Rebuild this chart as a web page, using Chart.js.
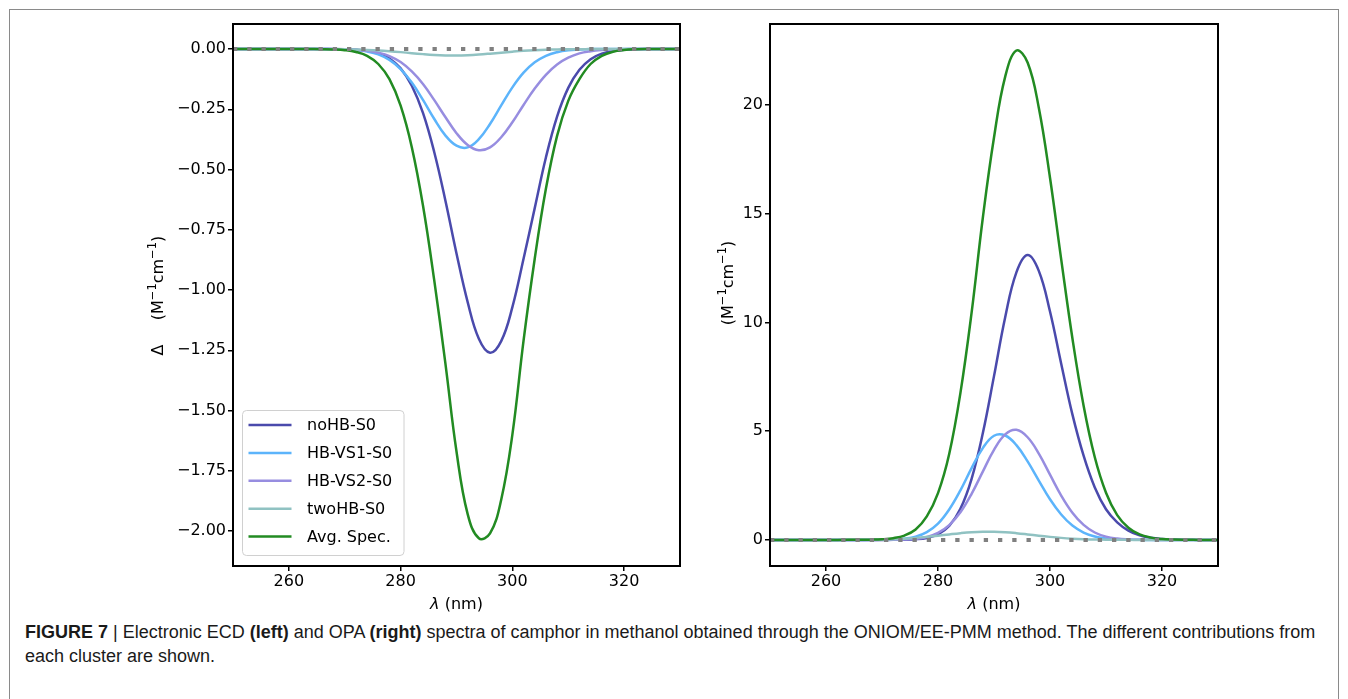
<!DOCTYPE html>
<html lang="en">
<head>
<meta charset="UTF-8">
<title>Figure 7 - ECD and OPA spectra of camphor</title>
<script src="https://cdn.jsdelivr.net/npm/chart.js"></script>
<style>
  html, body { margin: 0; padding: 0; background: #fff; }
  body { width: 1348px; height: 699px; position: relative; overflow: hidden; }
  #frame { position: absolute; left: 9px; top: 9px; width: 1330px; height: 800px; border: 1px solid #8a8a8a; box-sizing: border-box; }
  #ecd { position: absolute; left: 0; top: 0; }
  #opa { position: absolute; left: 700px; top: 0; }
  #caption { position: absolute; left: 25px; top: 620px; font-family: "Liberation Sans", Arial, sans-serif;
             font-size: 18px; line-height: 24px; color: #1a1a1a; white-space: nowrap; }
</style>
</head>
<body>
<div id="frame"></div>
<canvas id="ecd" width="700" height="620"></canvas>
<canvas id="opa" width="560" height="620"></canvas>
<div id="caption"><b>FIGURE 7</b> | Electronic ECD <b>(left)</b> and OPA <b>(right)</b> spectra of camphor in methanol obtained through the ONIOM/EE-PMM method. The different contributions from<br>each cluster are shown.</div>

<script>
// wavelengths (nm) shared by every curve
const lambda = [250, 255, 260, 264, 266, 268, 270, 272, 274, 276, 278, 280, 282, 284, 286, 288, 290, 292, 294,
                296, 298, 300, 302, 304, 306, 308, 310, 312, 314, 316, 318, 320, 322, 324, 327, 330];

// left panel: ECD
const ecdNoHB = [0, 0, 0, 0, 0, 0, -0.001, -0.003, -0.007, -0.017, -0.039, -0.080, -0.152, -0.265, -0.426, -0.627, -0.848, -1.05, -1.202,
                 -1.26, -1.212, -1.071, -0.87, -0.66, -0.45, -0.28, -0.161, -0.086, -0.042, -0.019, -0.008, -0.003, -0.001, 0, 0, 0];
const ecdVS1 = [0, 0, 0, 0, -0.0001, -0.0004, -0.0014, -0.004, -0.010, -0.022, -0.045, -0.083, -0.139, -0.211, -0.289, -0.358, -0.401, -0.408, -0.374,
                -0.311, -0.234, -0.159, -0.098, -0.055, -0.028, -0.013, -0.005, -0.002, 0, 0, 0, 0, 0, 0, 0, 0];
const ecdVS2 = [0, 0, 0, 0, -0.0001, -0.0004, -0.001, -0.003, -0.007, -0.015, -0.029, -0.054, -0.093, -0.145, -0.211, -0.282, -0.349, -0.398, -0.420,
                -0.408, -0.366, -0.304, -0.232, -0.164, -0.107, -0.064, -0.036, -0.018, -0.009, -0.004, -0.0015, -0.0005, 0, 0, 0, 0];
const ecdTwoHB = [0, 0, 0, -0.0001, -0.0003, -0.0006, -0.0011, -0.0021, -0.0037, -0.0059, -0.009, -0.0127, -0.0169, -0.021, -0.0244, -0.0265, -0.027, -0.0256, -0.0228,
                  -0.019, -0.0148, -0.0108, -0.0073, -0.0047, -0.0028, -0.0016, -0.0008, -0.0004, -0.0002, 0, 0, 0, 0, 0, 0, 0];
const ecdAvg = [0, 0, 0, -0.0002, -0.0005, -0.0016, -0.0046, -0.012, -0.028, -0.062, -0.125, -0.235, -0.407, -0.649, -0.957, -1.302, -1.67, -1.93, -2.03,
                -2.01, -1.87, -1.60, -1.21, -0.87, -0.58, -0.36, -0.215, -0.125, -0.062, -0.028, -0.011, -0.004, -0.001, 0, 0, 0];

// right panel: OPA
const opaNoHB = [0, 0, 0, 0, 0, 0, 0, 0.002, 0.008, 0.028, 0.09, 0.255, 0.64, 1.43, 2.81, 4.9, 7.53, 10.24, 12.3,
                 13.1, 12.37, 10.5, 8.1, 5.77, 3.87, 2.41, 1.41, 0.81, 0.43, 0.21, 0.098, 0.041, 0.015, 0.005, 0, 0];
const opaVS1 = [0, 0, 0, 0, 0.0005, 0.0015, 0.005, 0.019, 0.057, 0.15, 0.36, 0.75, 1.40, 2.28, 3.3, 4.22, 4.79, 4.80, 4.36,
                3.61, 2.73, 1.87, 1.17, 0.66, 0.34, 0.16, 0.07, 0.027, 0.01, 0.003, 0, 0, 0, 0, 0, 0];
const opaVS2 = [0, 0, 0, 0, 0, 0, 0.0015, 0.005, 0.017, 0.05, 0.135, 0.32, 0.68, 1.27, 2.12, 3.14, 4.14, 4.85, 5.06,
                4.72, 3.97, 3.0, 2.04, 1.25, 0.69, 0.34, 0.15, 0.06, 0.023, 0.008, 0.002, 0, 0, 0, 0, 0];
const opaTwoHB = [0, 0, 0, 0.002, 0.005, 0.011, 0.019, 0.034, 0.058, 0.093, 0.139, 0.193, 0.253, 0.309, 0.353, 0.377, 0.377, 0.353, 0.309,
                  0.253, 0.193, 0.139, 0.093, 0.058, 0.034, 0.019, 0.01, 0.005, 0.002, 0, 0, 0, 0, 0, 0, 0];
const opaAvg = [0, 0, 0, 0.002, 0.005, 0.012, 0.03, 0.08, 0.2, 0.48, 1.08, 2.15, 3.95, 6.75, 10.45, 14.8, 18.5, 21.3, 22.5,
                21.95, 19.87, 16.65, 12.9, 9.27, 6.17, 3.8, 2.17, 1.14, 0.56, 0.25, 0.105, 0.04, 0.015, 0.005, 0, 0];

// dotted zero reference
const zeroLambda = [250, 330];
const zeroValues = [0, 0];

const seriesNames = ['noHB-S0', 'HB-VS1-S0', 'HB-VS2-S0', 'twoHB-S0', 'Avg. Spec.'];
const seriesColors = ['#4a4aac', '#5cb4fb', '#978de0', '#90c2c2', '#228b22'];

// ticks
const lambdaTicks = [260, 280, 300, 320];
const lambdaTickLabels = ['260', '280', '300', '320'];
const ecdTicks = [-2.0, -1.75, -1.5, -1.25, -1.0, -0.75, -0.5, -0.25, 0];
const ecdTickLabels = ['\u22122.00', '\u22121.75', '\u22121.50', '\u22121.25', '\u22121.00', '\u22120.75', '\u22120.50', '\u22120.25', '0.00'];
const opaTicks = [0, 5, 10, 15, 20];
const opaTickLabels = ['0', '5', '10', '15', '20'];

// unit label, [text, superscript?]
const unitParts = [['(M', false], ['\u22121', true], ['cm', false], ['\u22121', true], [')', false]];

const FONT = 'DejaVu Sans';

function pts(xs, ys) {
    return xs.map((x, i) => ({ x: x, y: ys[i] }));
}

// draws mixed normal/superscript text rotated by -90deg, centred on (cx, cy)
function drawVertical(ctx, parts, cx, cy) {
    const fonts = parts.map(p => p[1] ? '11.5px ' + FONT : '16px ' + FONT);
    let total = 0;
    const widths = parts.map((p, i) => {
        ctx.font = fonts[i];
        const w = ctx.measureText(p[0]).width;
        total += w;
        return w;
    });
    ctx.save();
    ctx.translate(cx, cy);
    ctx.rotate(-Math.PI / 2);
    ctx.textAlign = 'left';
    ctx.textBaseline = 'middle';
    let x = -total / 2;
    parts.forEach((p, i) => {
        ctx.font = fonts[i];
        ctx.fillText(p[0], x, p[1] ? -6 : 0);
        x += widths[i];
    });
    ctx.restore();
}

function extras(opts) {
    return {
        id: 'extras',
        afterDatasetsDraw(chart) {
            const ctx = chart.ctx;
            const a = chart.chartArea;
            ctx.save();
            // axes box
            ctx.strokeStyle = '#000';
            ctx.lineWidth = 2;
            ctx.strokeRect(a.left, a.top, a.right - a.left, a.bottom - a.top);

            // legend inside the plot
            if (opts.legend) {
                const x = 242.5, y = 410.5, w = 161.5, h = 145, r = 4;
                ctx.beginPath();
                ctx.moveTo(x + r, y);
                ctx.arcTo(x + w, y, x + w, y + h, r);
                ctx.arcTo(x + w, y + h, x, y + h, r);
                ctx.arcTo(x, y + h, x, y, r);
                ctx.arcTo(x, y, x + w, y, r);
                ctx.closePath();
                ctx.fillStyle = 'rgba(255,255,255,0.85)';
                ctx.fill();
                ctx.strokeStyle = '#d0d0d0';
                ctx.lineWidth = 1;
                ctx.stroke();
                ctx.font = '16px ' + FONT;
                ctx.textBaseline = 'middle';
                ctx.textAlign = 'left';
                chart.data.datasets.forEach(ds => {
                    if (!ds.label) return;
                    const k = seriesNames.indexOf(ds.label);
                    const yy = 425 + k * 27.9;
                    ctx.strokeStyle = ds.borderColor;
                    ctx.lineWidth = 2.5;
                    ctx.beginPath();
                    ctx.moveTo(248.5, yy);
                    ctx.lineTo(291.5, yy);
                    ctx.stroke();
                    ctx.fillStyle = '#000';
                    ctx.fillText(ds.label, 307, yy + 1);
                });
            }

            // x title: italic lambda + (nm)
            ctx.fillStyle = '#000';
            ctx.textBaseline = 'middle';
            ctx.textAlign = 'left';
            ctx.font = 'italic 16px ' + FONT;
            const w1 = ctx.measureText('\u03bb').width;
            ctx.font = '16px ' + FONT;
            const w2 = ctx.measureText(' (nm)').width;
            const cx = (a.left + a.right) / 2;
            const sx = cx - (w1 + w2) / 2;
            ctx.font = 'italic 16px ' + FONT;
            ctx.fillText('\u03bb', sx, 605);
            ctx.font = '16px ' + FONT;
            ctx.fillText(' (nm)', sx + w1, 605);

            // y title
            opts.yTitle.forEach(p => drawVertical(ctx, p.parts, p.x, p.y));
            ctx.restore();
        }
    };
}

function makeChart(id, series, yMin, yMax, yTicks, yTickLabels, yWidth, padRight, opts) {
    const datasets = [{
        data: pts(zeroLambda, zeroValues),
        borderColor: '#808080',
        borderWidth: 4,
        borderDash: [4.3, 9.95],
        borderCapStyle: 'butt',
        order: 0
    }];
    series.forEach((s, i) => {
        datasets.push({
            label: seriesNames[i],
            data: pts(lambda, s),
            borderColor: seriesColors[i],
            borderWidth: 2.5,
            tension: 0.4,
            order: 5 - i
        });
    });

    return new Chart(document.getElementById(id), {
        type: 'line',
        data: { datasets: datasets },
        options: {
            responsive: false,
            animation: false,
            devicePixelRatio: 1,
            layout: { padding: { left: 0, right: padRight, top: 24, bottom: 0 } },
            elements: { point: { radius: 0 } },
            plugins: { legend: { display: false }, tooltip: { enabled: false } },
            scales: {
                x: {
                    type: 'linear',
                    min: 250,
                    max: 330,
                    afterBuildTicks: s => { s.ticks = lambdaTicks.map(v => ({ value: v })); },
                    afterFit: s => { s.height = 54; },
                    ticks: {
                        callback: v => lambdaTickLabels[lambdaTicks.indexOf(v)],
                        color: '#000',
                        font: { family: FONT, size: 16 },
                        padding: 1,
                        maxRotation: 0
                    },
                    grid: { drawOnChartArea: false, drawTicks: true, tickLength: 5, color: '#000', lineWidth: 1.5 },
                    border: { display: false }
                },
                y: {
                    min: yMin,
                    max: yMax,
                    afterBuildTicks: s => { s.ticks = yTicks.map(v => ({ value: v })); },
                    afterFit: s => { s.width = yWidth; },
                    ticks: {
                        callback: v => yTickLabels[yTicks.indexOf(v)],
                        color: '#000',
                        font: { family: FONT, size: 16 },
                        padding: 2
                    },
                    grid: { drawOnChartArea: false, drawTicks: true, tickLength: 5, color: '#000', lineWidth: 1.5 },
                    border: { display: false }
                }
            }
        },
        plugins: [extras(opts)]
    });
}

makeChart('ecd', [ecdNoHB, ecdVS1, ecdVS2, ecdTwoHB, ecdAvg], -2.145, 0.104, ecdTicks, ecdTickLabels, 233, 20, {
    legend: true,
    yTitle: [
        { parts: [['\u0394', false]], x: 159, y: 350 },
        { parts: unitParts, x: 159, y: 278 }
    ]
});

makeChart('opa', [opaNoHB, opaVS1, opaVS2, opaTwoHB, opaAvg], -1.2, 23.72, opaTicks, opaTickLabels, 70, 42, {
    legend: false,
    yTitle: [
        { parts: unitParts, x: 29, y: 283 }
    ]
});
</script>
</body>
</html>
